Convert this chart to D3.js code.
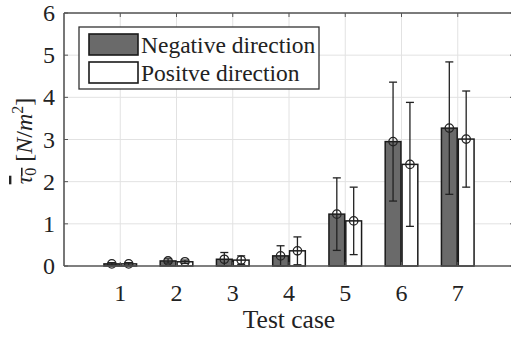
<!DOCTYPE html>
<html><head><meta charset="utf-8">
<script src="https://cdn.jsdelivr.net/npm/d3@7"></script>
<style>body{margin:0;background:#fff}svg{display:block}</style>
</head><body><svg id="c" width="511" height="337"></svg>
<script>
const cases = [1,2,3,4,5,6,7];
const negMean = [0.05,0.12,0.16,0.24,1.23,2.95,3.27];
const negStd  = [0.03,0.05,0.16,0.24,0.86,1.41,1.57];
const posMean = [0.05,0.10,0.14,0.36,1.07,2.41,3.01];
const posStd  = [0.03,0.04,0.10,0.33,0.80,1.47,1.14];
const yTicks = [0,1,2,3,4,5,6];
const seriesNames = ["Negative direction","Positve direction"];

const FONT = "'Liberation Serif', 'DejaVu Serif', 'Times New Roman', Times, serif";
const svg = d3.select("#c").attr("font-family",FONT);
const L=64,R=514,T=13,B=266;
const x = d3.scaleLinear().domain([0,8]).range([L,R]);
const y = d3.scaleLinear().domain([0,6]).range([B,T]);
const axisCol="#555", grid="#e2e2e2", txt="#222";
// grid
svg.append("g").selectAll("line").data(yTicks.slice(1)).join("line")
  .attr("x1",L).attr("x2",R).attr("y1",d=>y(d)).attr("y2",d=>y(d)).attr("stroke",grid);
svg.append("g").selectAll("line").data(cases).join("line")
  .attr("y1",T).attr("y2",B).attr("x1",d=>x(d)).attr("x2",d=>x(d)).attr("stroke",grid);

const off=0.15, bw=0.28;
const series=[{m:negMean,s:negStd,fill:"#6a6a6a",dx:-off},{m:posMean,s:posStd,fill:"#fff",dx:off}];
series.forEach(sr=>{
  const g=svg.append("g");
  g.selectAll("rect").data(cases).join("rect")
    .attr("x",(d)=>x(d+sr.dx-bw/2)).attr("width",x(bw)-x(0))
    .attr("y",(d,i)=>y(sr.m[i])).attr("height",(d,i)=>y(0)-y(sr.m[i]))
    .attr("fill",sr.fill).attr("stroke","#1a1a1a").attr("stroke-width",1.5);
  const e=svg.append("g").attr("stroke","#222").attr("stroke-width",1.3).attr("fill","none");
  cases.forEach((d,i)=>{
    const cx=x(d+sr.dx), lo=Math.max(0,sr.m[i]-sr.s[i]), hi=sr.m[i]+sr.s[i];
    e.append("line").attr("x1",cx).attr("x2",cx).attr("y1",y(lo)).attr("y2",y(hi));
    e.append("line").attr("x1",cx-4).attr("x2",cx+4).attr("y1",y(hi)).attr("y2",y(hi));
    e.append("line").attr("x1",cx-4).attr("x2",cx+4).attr("y1",y(lo)).attr("y2",y(lo));
    e.append("circle").attr("cx",cx).attr("cy",y(sr.m[i])).attr("r",4.2);
  });
});

// axes box
const ax=svg.append("g").attr("stroke",axisCol).attr("stroke-width",1.6);
ax.append("line").attr("x1",L).attr("x2",R).attr("y1",B).attr("y2",B);
ax.append("line").attr("x1",L).attr("x2",R).attr("y1",T).attr("y2",T);
ax.append("line").attr("x1",L).attr("x2",L).attr("y1",T).attr("y2",B);
ax.append("line").attr("x1",R).attr("x2",R).attr("y1",T).attr("y2",B);
const tk=svg.append("g").attr("stroke",axisCol).attr("stroke-width",1);
yTicks.forEach(t=>{
  tk.append("line").attr("x1",L).attr("x2",L+4).attr("y1",y(t)).attr("y2",y(t));
  tk.append("line").attr("x1",R).attr("x2",R-4).attr("y1",y(t)).attr("y2",y(t));
});
cases.forEach(c=>{
  tk.append("line").attr("x1",x(c)).attr("x2",x(c)).attr("y1",B).attr("y2",B-4);
  tk.append("line").attr("x1",x(c)).attr("x2",x(c)).attr("y1",T).attr("y2",T+4);
});
svg.append("g").selectAll("text").data(yTicks).join("text").attr("fill",txt)
  .attr("x",L-9).attr("y",d=>y(d)+8).attr("text-anchor","end").attr("font-size",24).text(d=>d);
svg.append("g").selectAll("text").data(cases).join("text").attr("fill",txt)
  .attr("x",d=>x(d)).attr("y",B+35).attr("text-anchor","middle").attr("font-size",24).text(d=>d);
svg.append("text").attr("fill",txt).attr("x",289).attr("y",328).attr("text-anchor","middle").attr("font-size",25.5).text("Test case");

// y label
const yl=svg.append("text").attr("fill",txt).attr("transform","translate(32,141) rotate(-90)").attr("text-anchor","middle").attr("font-size",24);
yl.append("tspan").attr("font-style","italic").attr("text-decoration","overline").text("τ");
yl.append("tspan").attr("font-size",16).attr("dy",4).attr("text-decoration","overline").text("0");
yl.append("tspan").attr("dy",-4).text(" [");
yl.append("tspan").attr("font-style","italic").text("N");
yl.append("tspan").text("/");
yl.append("tspan").attr("font-style","italic").text("m");
yl.append("tspan").attr("font-size",16).attr("dy",-9).text("2");
yl.append("tspan").attr("dy",9).text("]");

// legend
const lg=svg.append("g");
lg.append("rect").attr("x",79).attr("y",27).attr("width",240).attr("height",62).attr("fill","#fff").attr("stroke","#333").attr("stroke-width",1.3);
const fills=["#6a6a6a","#fff"];
seriesNames.forEach((n,i)=>{
  lg.append("rect").attr("x",89).attr("y",34+i*28).attr("width",49).attr("height",21).attr("fill",fills[i]).attr("stroke","#1a1a1a").attr("stroke-width",1.6);
  lg.append("text").attr("fill",txt).attr("x",141).attr("y",53+i*28).attr("font-size",23.5).text(n);
});
</script></body></html>
